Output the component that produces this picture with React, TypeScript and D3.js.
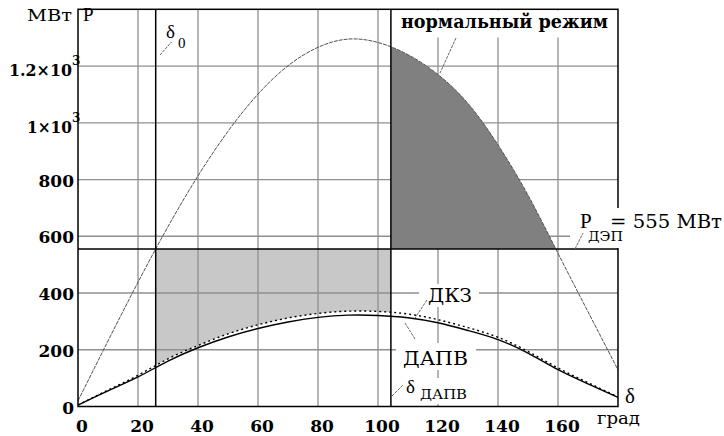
import React from "react";
import * as d3 from "d3";

// Angle grid (degrees) shared by all power curves
const DELTA = [0, 10, 20, 30, 40, 50, 60, 70, 80, 90, 100, 110, 120, 130, 140, 150, 160, 170, 180];
// Normal operating mode power characteristic, MW
const P_NORMAL = [20, 231, 438, 634, 813, 970, 1101, 1201, 1266, 1295, 1283, 1240, 1170, 1068, 922, 745, 540, 334, 129];
// After auto-reclosing (ДАПВ), MW
const P_DAPV = [5, 55, 104, 160, 207, 245, 275, 298, 314, 322, 321, 313, 295, 268, 236, 188, 130, 80, 32];
// During short circuit (ДКЗ), MW
const P_DKZ = [5, 58, 110, 168, 215, 256, 288, 312, 328, 336, 335, 326, 306, 278, 244, 194, 136, 84, 34];

const X_TICKS = [0, 20, 40, 60, 80, 100, 120, 140, 160];
const Y_TICKS = [0, 200, 400, 600, 800, 1000, 1200];
const Y_TICK_MAIN = ["0", "200", "400", "600", "800", "1×10", "1.2×10"];
const Y_TICK_SUP = ["", "", "", "", "", "3", "3"];

const P_LINE = 555; // transmitted power, MW
const DELTA_0 = 25.9; // initial angle
const DELTA_DAPV = 104.3; // reclosing angle

const W = 724;
const H = 436;
const L = 78;
const R = 618;
const T = 9.3;
const B = 406.5;

// Latin / Greek text
const LAT = "Liberation Serif";
// Cyrillic text and bold tick numbers
const CYR = "DejaVu Serif";

type TProps = React.SVGProps<SVGTextElement>;
const Lat = (p: TProps) => <text fontFamily={LAT} fill="#000" {...p} />;
const Cyr = (p: TProps) => <text fontFamily={CYR} fill="#000" lengthAdjust="spacingAndGlyphs" {...p} />;
const Num = (p: TProps) => <text fontFamily={CYR} fontWeight="bold" fontSize={17} fill="#000" {...p} />;

export default function App() {
  const x = d3.scaleLinear().domain([0, 180]).range([L, R]);
  const y = d3.scaleLinear().domain([0, 1400]).range([B, T]);

  const pts = (vals: number[]) => DELTA.map((d, i) => [d, vals[i]] as [number, number]);
  const line = d3
    .line<[number, number]>()
    .x((d) => x(d[0]))
    .y((d) => y(d[1]))
    .curve(d3.curveNatural);
  const areaToLine = d3
    .area<[number, number]>()
    .x((d) => x(d[0]))
    .y0(() => y(P_LINE))
    .y1((d) => y(d[1]))
    .curve(d3.curveNatural);

  const grid = "#8f8f8f";
  const leader = { stroke: "#666", strokeWidth: 1, strokeDasharray: "3,1" };
  // compact width for the "×10" power-of-ten labels
  const powWidth = (s: string) => s.length * 9 + 9;

  return (
    <svg width={W} height={H} style={{ position: "absolute", left: 0, top: 0, background: "#fff" }}>
      <defs>
        <clipPath id="clip-accel">
          <rect x={x(DELTA_0)} y={y(P_LINE)} width={x(DELTA_DAPV) - x(DELTA_0)} height={B - y(P_LINE)} />
        </clipPath>
        <clipPath id="clip-decel">
          <rect x={x(DELTA_DAPV)} y={T} width={R - x(DELTA_DAPV)} height={y(P_LINE) - T} />
        </clipPath>
      </defs>

      {/* acceleration area (under the grid) */}
      <path d={areaToLine(pts(P_DKZ)) ?? ""} fill="#c8c8c8" clipPath="url(#clip-accel)" />

      {/* grid */}
      {X_TICKS.filter((t) => t > 0).map((t) => (
        <line key={"gx" + t} x1={x(t)} x2={x(t)} y1={T} y2={B} stroke={grid} strokeWidth={1.3} />
      ))}
      {Y_TICKS.filter((t) => t > 0).map((t) => (
        <line key={"gy" + t} x1={L} x2={R} y1={y(t)} y2={y(t)} stroke={grid} strokeWidth={1.3} />
      ))}

      {/* deceleration area (covers the grid) */}
      <path d={areaToLine(pts(P_NORMAL)) ?? ""} fill="#808080" clipPath="url(#clip-decel)" />

      {/* curves */}
      <path d={line(pts(P_NORMAL)) ?? ""} fill="none" stroke="#505050" strokeWidth={1} strokeDasharray="4,1" />
      <path d={line(pts(P_DAPV)) ?? ""} fill="none" stroke="#000" strokeWidth={1.4} />
      <path d={line(pts(P_DKZ)) ?? ""} fill="none" stroke="#000" strokeWidth={1.4} strokeDasharray="2,3" />

      {/* reference lines */}
      <line x1={L} x2={R} y1={y(P_LINE)} y2={y(P_LINE)} stroke="#000" strokeWidth={1.5} />
      <line x1={x(DELTA_0)} x2={x(DELTA_0)} y1={T} y2={B} stroke="#000" strokeWidth={1.5} />
      <line x1={x(DELTA_DAPV)} x2={x(DELTA_DAPV)} y1={T} y2={B} stroke="#000" strokeWidth={1.5} />

      {/* frame */}
      <rect x={L} y={T} width={R - L} height={B - T} fill="none" stroke="#000" strokeWidth={1.5} />

      {/* label backgrounds */}
      <rect x={395} y={10.5} width={218} height={27} fill="#fff" />
      <rect x={570} y={208} width={154} height={40} fill="#fff" />
      <rect x={419} y={284} width={60} height={23} fill="#fff" />
      <rect x={396} y={343} width={80} height={27} fill="#fff" />
      <rect x={404} y={378} width={68} height={26} fill="#fff" />

      {/* tick labels */}
      {X_TICKS.map((t) => (
        <Num key={"tx" + t} x={x(t) + 4} y={432} textAnchor="middle">
          {t}
        </Num>
      ))}
      {Y_TICKS.map((t, i) =>
        Y_TICK_SUP[i] ? (
          <g key={"ty" + t}>
            <Num
              x={72 - powWidth(Y_TICK_MAIN[i])}
              y={y(t) + 10}
              textLength={powWidth(Y_TICK_MAIN[i])}
              lengthAdjust="spacingAndGlyphs"
            >
              {Y_TICK_MAIN[i]}
            </Num>
            <Num x={72} y={y(t) - 1} fontSize={12}>
              {Y_TICK_SUP[i]}
            </Num>
          </g>
        ) : (
          <Num key={"ty" + t} x={74} y={y(t) + 7} textAnchor="end">
            {Y_TICK_MAIN[i]}
          </Num>
        )
      )}

      {/* axis captions */}
      <Cyr x={27} y={21} fontSize={16} textLength={45}>МВт</Cyr>
      <Lat x={83} y={21} fontSize={19}>P</Lat>
      <Lat x={625} y={403} fontSize={21}>δ</Lat>
      <Cyr x={597} y={424} fontSize={17} textLength={43}>град</Cyr>

      {/* annotations */}
      <line x1={160} y1={55} x2={171.5} y2={42} {...leader} />
      <Lat x={166} y={38} fontSize={19}>δ</Lat>
      <Lat x={178} y={48} fontSize={15}>0</Lat>

      <line x1={456} y1={38} x2={440} y2={73} {...leader} />
      <Cyr x={401} y={28} fontSize={19} fontWeight="bold" textLength={207}>
        нормальный режим
      </Cyr>

      <line x1={575} y1={249} x2={583} y2={233} {...leader} />
      <Lat x={580} y={228} fontSize={21}>P</Lat>
      <Cyr x={588} y={241} fontSize={13} textLength={35}>ДЭП</Cyr>
      <Cyr x={610} y={228} fontSize={18} textLength={112}>= 555 МВт</Cyr>

      <line x1={427} y1={300} x2={415} y2={318} {...leader} />
      <Cyr x={428} y={302} fontSize={18} textLength={44}>ДКЗ</Cyr>

      <line x1={405} y1={323} x2={415} y2={339} {...leader} />
      <Cyr x={403} y={365} fontSize={18} textLength={65}>ДАПВ</Cyr>

      <line x1={392} y1={396} x2={403} y2={385} {...leader} />
      <Lat x={406} y={393} fontSize={19}>δ</Lat>
      <Cyr x={420} y={399} fontSize={12} textLength={47}>ДАПВ</Cyr>
    </svg>
  );
}
